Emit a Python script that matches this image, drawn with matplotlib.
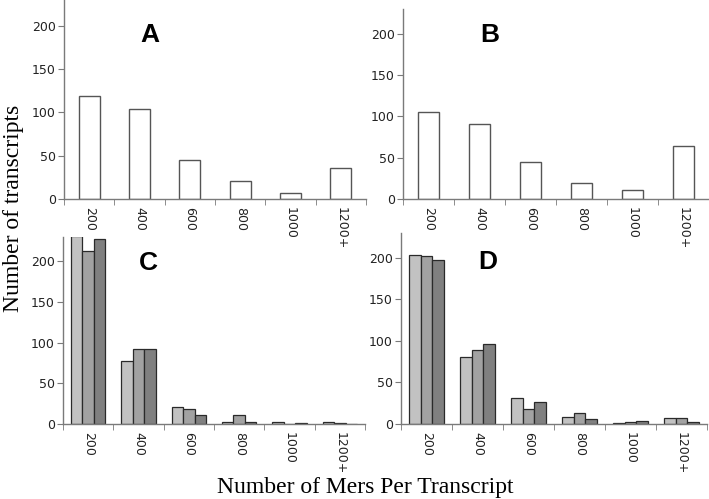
import matplotlib
matplotlib.use("Agg")
import matplotlib.pyplot as plt
import numpy as np

categories = ["200", "400", "600", "800", "1000", "1200+"]
a_vals = [119, 104, 45, 21, 7, 36]
b_vals = [105, 91, 45, 19, 11, 64]
c_s1 = [231, 77, 21, 3, 2.5, 2.5]
c_s2 = [213, 92, 18, 11, 0, 1]
c_s3 = [227, 92, 11, 3, 1, 0]
d_s1 = [203, 81, 31, 8.5, 1, 7]
d_s2 = [202, 89, 18, 13, 2, 7]
d_s3 = [198, 96, 26, 6, 4, 2.5]
yticks = [0, 50, 100, 150, 200]
series_colors = ["#c2c2c2", "#a2a2a2", "#808080"]

W, H = 709, 499
fig = plt.figure(figsize=(W / 100, H / 100), dpi=100)

def px_axes(left, top, width, height):
    return fig.add_axes([left / W, (H - top - height) / H, width / W, height / H])

def style(ax):
    ax.set_xlim(0, 6)
    ax.set_ylim(0, 230)
    for s in ["top", "right"]:
        ax.spines[s].set_visible(False)
    for s in ["left", "bottom"]:
        ax.spines[s].set_color("#7a7a7a")
        ax.spines[s].set_linewidth(1.0)
    ax.set_yticks(yticks)
    ax.set_yticklabels([str(t) for t in yticks])
    ax.tick_params(axis="y", direction="out", length=4, color="#7a7a7a",
                   labelsize=9, labelcolor="#222222", pad=2)
    ax.set_xticks(np.arange(6) + 0.5)
    ax.set_xticklabels(categories, rotation=-90, fontsize=9, color="#222222")
    ax.tick_params(axis="x", which="major", length=0, pad=6)
    ax.set_xticks(np.arange(7), minor=True)
    ax.tick_params(axis="x", which="minor", direction="out", length=4, color="#7a7a7a")
    ax.patch.set_alpha(0)

def letter(ax, s, yv):
    ax.text(1.7, yv, s, fontsize=19, fontweight="bold", family="Liberation Sans",
            ha="center", va="center")

x = np.arange(6) + 0.5

axA = px_axes(64, 0, 302, 199)
axA.bar(x, a_vals, width=0.42, color="white", edgecolor="#555555", linewidth=1.0)
style(axA)
letter(axA, "A", 190)

axB = px_axes(403, 9, 306, 190)
axB.bar(x, b_vals, width=0.42, color="white", edgecolor="#555555", linewidth=1.0)
style(axB)
letter(axB, "B", 198)

bw = 0.227
axC = px_axes(63, 237, 302, 187)
for i, vals in enumerate([c_s1, c_s2, c_s3]):
    axC.bar(x + (i - 1) * bw, vals, width=bw, color=series_colors[i],
            edgecolor="#2a2a2a", linewidth=0.9)
style(axC)
letter(axC, "C", 198)

axD = px_axes(401, 233, 306, 191)
for i, vals in enumerate([d_s1, d_s2, d_s3]):
    axD.bar(x + (i - 1) * bw, vals, width=bw, color=series_colors[i],
            edgecolor="#2a2a2a", linewidth=0.9)
style(axD)
letter(axD, "D", 195)

fig.text(14 / W, 1 - 208 / H, "Number of transcripts", rotation=90, ha="center", va="center",
         family="Liberation Serif", fontsize=17)
fig.text(365.5 / W, 1 - 493 / H, "Number of Mers Per Transcript", ha="center", va="baseline",
         family="Liberation Serif", fontsize=17)

fig.savefig("out.png", dpi=100)
